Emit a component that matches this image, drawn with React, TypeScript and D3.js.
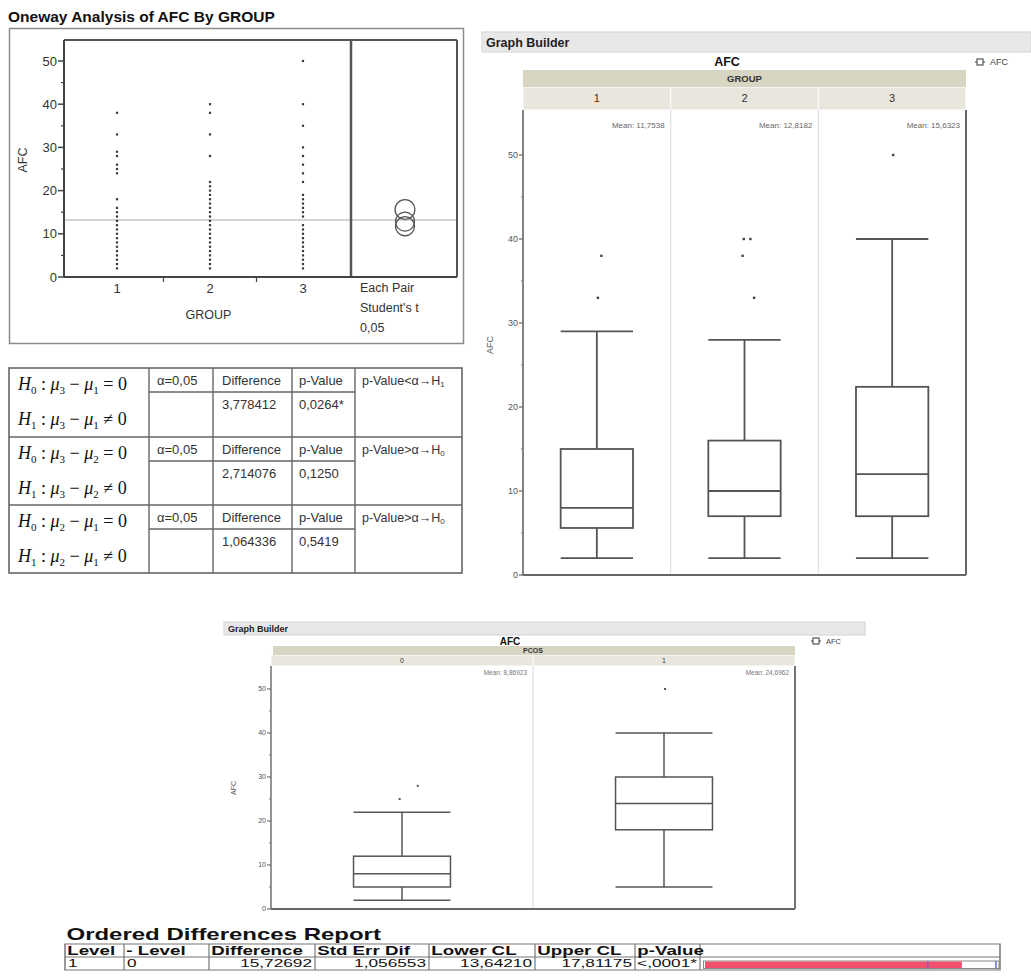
import React from "react";
import * as d3 from "d3";

const SANS = "'Liberation Sans', Arial, Helvetica, sans-serif";
const SERIF = "'Liberation Serif', 'Times New Roman', Times, serif";

// ---- Oneway Analysis of AFC by GROUP ----
const groupLevels = ["1", "2", "3"];
const afcGroup1 = [2, 3, 4, 5, 6, 7, 8, 9, 10, 11, 12, 13, 14, 15, 16, 18, 24, 25, 26, 28, 29, 33, 38];
const afcGroup2 = [2, 3, 4, 5, 6, 7, 8, 9, 10, 11, 12, 13, 14, 15, 16, 17, 18, 19, 20, 21, 22, 28, 33, 38, 40];
const afcGroup3 = [2, 3, 4, 5, 6, 7, 8, 9, 10, 11, 12, 14, 15, 16, 17, 18, 19, 22, 24, 26, 28, 30, 35, 40, 50];
const groupMeans = [11.7538, 12.8182, 15.6323];
const groupCircleRadius = [2.2, 2.2, 2.3];
const grandMean = 13.2;
const afcMajorTicks = [0, 10, 20, 30, 40, 50];
const afcMinorTicks = [5, 15, 25, 35, 45];
const comparisonLabel = ["Each Pair", "Student's t", "0,05"];

// ---- Hypothesis tests ----
const testPairs = [["3", "1"], ["3", "2"], ["2", "1"]];
const testAlpha = ["α=0,05", "α=0,05", "α=0,05"];
const testDifference = ["3,778412", "2,714076", "1,064336"];
const testPValue = ["0,0264*", "0,1250", "0,5419"];
const testSign = ["<", ">", ">"];
const testDecision = ["1", "0", "0"];

// ---- Graph Builder: AFC by GROUP ----
const boxMin = [2, 2, 2];
const boxQ1 = [5.6, 7, 7];
const boxMedian = [8, 10, 12];
const boxQ3 = [15, 16, 22.4];
const boxUpper = [29, 28, 40];
const boxOutliers = [[33, 38], [33, 38, 40, 40], [50]];
const boxOutlierJitter = [[0.007, 0.031], [0.065, -0.013, -0.005, 0.04], [0.007]];
const boxMeanLabels = ["Mean: 11,7538", "Mean: 12,8182", "Mean: 15,6323"];

// ---- Graph Builder: AFC by PCOS ----
const pcosLevels = ["0", "1"];
const pcosMin = [2, 5];
const pcosQ1 = [5, 18];
const pcosMedian = [8, 24];
const pcosQ3 = [12, 30];
const pcosUpper = [22, 40];
const pcosOutliers = [[25, 28], [50]];
const pcosOutlierJitter = [[-0.009, 0.06], [0.004]];
const pcosMeanLabels = ["Mean: 8,86923", "Mean: 24,6962"];

// ---- Ordered Differences Report ----
const odHeaders = ["Level", "- Level", "Difference", "Std Err Dif", "Lower CL", "Upper CL", "p-Value"];
const odRow = ["1", "0", "15,72692", "1,056553", "13,64210", "17,81175", "<,0001*"];
const odAlignRight = [false, false, true, true, true, true, true];
const odDifference = 15.72692;
const odLowerCL = 13.6421;
const odUpperCL = 17.81175;

function Box({ cx, half, y, lo, q1, med, q3, hi, sw }: any) {
  return (
    <g stroke="#555" strokeWidth={sw} fill="none">
      <line x1={cx} x2={cx} y1={y(lo)} y2={y(q1)} />
      <line x1={cx} x2={cx} y1={y(q3)} y2={y(hi)} />
      <line x1={cx - half} x2={cx + half} y1={y(lo)} y2={y(lo)} />
      <line x1={cx - half} x2={cx + half} y1={y(hi)} y2={y(hi)} />
      <rect x={cx - half} y={y(q3)} width={2 * half} height={y(q1) - y(q3)} fill="#fff" />
      <line x1={cx - half} x2={cx + half} y1={y(med)} y2={y(med)} />
    </g>
  );
}

function Oneway() {
  const L = 64, R = 351, RR = 457, T = 40, B = 277;
  const y = d3.scaleLinear().domain([0, 50]).range([B, 61]);
  const x = d3.scaleLinear().domain([1, 3]).range([117, 303]);
  const series = [afcGroup1, afcGroup2, afcGroup3];
  const cx = (R + RR) / 2 + 1;
  return (
    <g fontFamily={SANS}>
      <text x={8} y={22} fontSize={15.5} fontWeight="bold" fill="#111">Oneway Analysis of AFC By GROUP</text>
      <rect x={9.5} y={28.5} width={454} height={315} fill="none" stroke="#8c8c8c" strokeWidth={1.5} />
      <line x1={L} x2={RR} y1={y(grandMean)} y2={y(grandMean)} stroke="#aaa" strokeWidth={1.2} />
      <line x1={L} x2={RR} y1={T} y2={T} stroke="#555" strokeWidth={2} />
      <line x1={RR} x2={RR} y1={T} y2={B} stroke="#555" strokeWidth={2} />
      <line x1={R} x2={R} y1={T} y2={B} stroke="#555" strokeWidth={2.5} />
      <line x1={L} x2={L} y1={T} y2={B} stroke="#444" strokeWidth={2} />
      <line x1={L} x2={RR} y1={B} y2={B} stroke="#444" strokeWidth={2} />
      {afcMajorTicks.map((t) => (
        <g key={t}>
          <line x1={L - 6} x2={L} y1={y(t)} y2={y(t)} stroke="#444" strokeWidth={1.5} />
          <text x={L - 7} y={y(t)} dy="0.35em" textAnchor="end" fontSize={13} fill="#333">{t}</text>
        </g>
      ))}
      {afcMinorTicks.map((t) => (
        <line key={t} x1={L - 3} x2={L} y1={y(t)} y2={y(t)} stroke="#444" strokeWidth={1.2} />
      ))}
      {[1.5, 2.5].map((t) => (
        <line key={t} x1={x(t)} x2={x(t)} y1={B} y2={B + 5} stroke="#444" strokeWidth={1.2} />
      ))}
      {groupLevels.map((g, i) => (
        <text key={g} x={x(i + 1)} y={B + 11} dy="0.35em" textAnchor="middle" fontSize={13} fill="#333">{g}</text>
      ))}
      <text x={(L + R) / 2 + 1} y={B + 38} dy="0.35em" textAnchor="middle" fontSize={12.5} fill="#333">GROUP</text>
      <text transform={`translate(23,160) rotate(-90)`} textAnchor="middle" dy="0.35em" fontSize={12.5} fill="#333">AFC</text>
      {series.map((vals, i) =>
        vals.map((v, j) => (
          <rect key={`${i}-${j}`} x={x(i + 1) - 1.1} y={y(v) - 1.1} width={2.2} height={2.2} fill="#3a3a3a" />
        ))
      )}
      {groupMeans.map((m, i) => (
        <circle key={i} cx={cx} cy={y(m)} r={y(0) - y(groupCircleRadius[i])} fill="none" stroke="#555" strokeWidth={1.3} />
      ))}
      {comparisonLabel.map((s, i) => (
        <text key={s} x={R + 9} y={B + 15 + i * 20} fontSize={12.5} fill="#333">{s}</text>
      ))}
    </g>
  );
}

function Hyp({ x, y, h, a, b, rel }: any) {
  return (
    <text x={x} y={y} fontFamily={SERIF} fontSize={18} fill="#111" style={{ whiteSpace: "pre" }}>
      <tspan fontStyle="italic">H</tspan>
      <tspan fontSize={11} dy={4}>{h}</tspan>
      <tspan dy={-4}>{" : "}</tspan>
      <tspan fontStyle="italic">μ</tspan>
      <tspan fontSize={11} dy={4}>{a}</tspan>
      <tspan dy={-4}>{" − "}</tspan>
      <tspan fontStyle="italic">μ</tspan>
      <tspan fontSize={11} dy={4}>{b}</tspan>
      <tspan dy={-4}>{` ${rel} 0`}</tspan>
    </text>
  );
}

function HypTable() {
  const cols = [9, 149, 213, 292, 355, 462];
  const rowTops = [368, 437, 505, 573];
  const lc = "#666";
  return (
    <g fontFamily={SANS}>
      <rect x={cols[0]} y={rowTops[0]} width={cols[5] - cols[0]} height={rowTops[3] - rowTops[0]} fill="none" stroke={lc} strokeWidth={1.6} />
      {rowTops.slice(1, 3).map((t) => (
        <line key={t} x1={cols[0]} x2={cols[5]} y1={t} y2={t} stroke={lc} strokeWidth={1.6} />
      ))}
      {cols.slice(1, 5).map((c) => (
        <line key={c} x1={c} x2={c} y1={rowTops[0]} y2={rowTops[3]} stroke={lc} strokeWidth={1.4} />
      ))}
      {testPairs.map((p, i) => {
        const top = rowTops[i];
        return (
          <g key={i}>
            <line x1={cols[1]} x2={cols[4]} y1={top + 24} y2={top + 24} stroke={lc} strokeWidth={1.4} />
            <Hyp x={18} y={top + 22} h="0" a={p[0]} b={p[1]} rel="=" />
            <Hyp x={18} y={top + 57} h="1" a={p[0]} b={p[1]} rel="≠" />
            <text x={cols[1] + 8} y={top + 17} fontSize={13} fill="#333">{testAlpha[i]}</text>
            <text x={cols[2] + 9} y={top + 17} fontSize={13} fill="#333">Difference</text>
            <text x={cols[3] + 7} y={top + 17} fontSize={13} fill="#333">p-Value</text>
            <text x={cols[4] + 7} y={top + 17} fontSize={12.5} fill="#333">
              {`p-Value${testSign[i]}α→H`}
              <tspan fontSize={8} dy={2}>{testDecision[i]}</tspan>
            </text>
            <text x={cols[2] + 9} y={top + 41} fontSize={13} fill="#333">{testDifference[i]}</text>
            <text x={cols[3] + 7} y={top + 41} fontSize={13} fill="#333">{testPValue[i]}</text>
          </g>
        );
      })}
    </g>
  );
}

function Legend({ x, y, fs }: any) {
  return (
    <g>
      <line x1={x} x2={x + 10} y1={y} y2={y} stroke="#555" strokeWidth={1.2} />
      <rect x={x + 2} y={y - 3} width={6} height={6} fill="#fff" stroke="#555" strokeWidth={1.2} />
      <text x={x + 15} y={y} dy="0.35em" fontSize={fs} fill="#444">AFC</text>
    </g>
  );
}

function GroupBuilder() {
  const L = 523, R = 966, T = 110, B = 575;
  const y = d3.scaleLinear().domain([0, 50]).range([B, 155]);
  const x = d3.scaleBand().domain(groupLevels).range([L, R]);
  const bw = x.bandwidth();
  const half = bw * 0.245;
  return (
    <g fontFamily={SANS}>
      <rect x={482} y={32} width={549} height={20} fill="#e8e8e8" stroke="#d4d4d4" />
      <text x={486} y={46.5} fontSize={12.5} fontWeight="bold" fill="#222">Graph Builder</text>
      <text x={727} y={62} dy="0.35em" textAnchor="middle" fontSize={12.5} fontWeight="bold" fill="#111">AFC</text>
      <Legend x={975} y={62} fs={9} />
      <rect x={L} y={70} width={R - L} height={17} fill="#d8d5c3" />
      <text x={(L + R) / 2} y={78.5} dy="0.35em" textAnchor="middle" fontSize={9.5} fontWeight="bold" fill="#333">GROUP</text>
      {groupLevels.map((g) => (
        <g key={g}>
          <rect x={x(g)! + 0.5} y={87.5} width={bw - 1} height={T - 88} fill="#e9e7dd" />
          <text x={x(g)! + bw / 2} y={98.5} dy="0.35em" textAnchor="middle" fontSize={11} fill="#333">{g}</text>
        </g>
      ))}
      {groupLevels.slice(1).map((g) => (
        <line key={g} x1={x(g)} x2={x(g)} y1={T} y2={B} stroke="#e0e0e0" strokeWidth={1.2} />
      ))}
      <line x1={L} x2={L} y1={T} y2={B} stroke="#666" strokeWidth={1.6} />
      <line x1={R} x2={R} y1={T} y2={B} stroke="#666" strokeWidth={2} />
      <line x1={L} x2={R} y1={B} y2={B} stroke="#666" strokeWidth={2} />
      {afcMajorTicks.map((t) => (
        <g key={t}>
          <line x1={L - 4} x2={L} y1={y(t)} y2={y(t)} stroke="#666" strokeWidth={1.2} />
          <text x={L - 5} y={y(t)} dy="0.35em" textAnchor="end" fontSize={9} fill="#555">{t}</text>
        </g>
      ))}
      {afcMinorTicks.map((t) => (
        <line key={t} x1={L - 2} x2={L} y1={y(t)} y2={y(t)} stroke="#777" strokeWidth={1} />
      ))}
      <text transform={`translate(490,345) rotate(-90)`} textAnchor="middle" dy="0.35em" fontSize={9} fill="#555">AFC</text>
      {groupLevels.map((g, i) => {
        const cx = x(g)! + bw / 2;
        return (
          <g key={g}>
            <text x={x(g)! + bw - 6} y={125} dy="0.35em" textAnchor="end" fontSize={8} fill="#666">{boxMeanLabels[i]}</text>
            <Box cx={cx} half={half} y={y} lo={boxMin[i]} q1={boxQ1[i]} med={boxMedian[i]} q3={boxQ3[i]} hi={boxUpper[i]} sw={1.8} />
            {boxOutliers[i].map((v, j) => (
              <rect key={j} x={cx + boxOutlierJitter[i][j] * bw - 1.2} y={y(v) - 1.2} width={2.4} height={2.4} fill="#444" />
            ))}
          </g>
        );
      })}
    </g>
  );
}

function PcosBuilder() {
  const L = 271, R = 795, T = 666, B = 909;
  const y = d3.scaleLinear().domain([0, 50]).range([B, 689]);
  const x = d3.scaleBand().domain(pcosLevels).range([L, R]);
  const bw = x.bandwidth();
  const half = bw * 0.185;
  return (
    <g fontFamily={SANS}>
      <rect x={224} y={622} width={641} height={13} fill="#e8e8e8" stroke="#d4d4d4" />
      <text x={228} y={632} fontSize={9} fontWeight="bold" fill="#222">Graph Builder</text>
      <text x={510} y={641} dy="0.35em" textAnchor="middle" fontSize={10} fontWeight="bold" fill="#111">AFC</text>
      <Legend x={811} y={641} fs={7.5} />
      <rect x={L + 2} y={646} width={R - L - 2} height={9} fill="#d8d5c3" />
      <text x={(L + R) / 2} y={650.5} dy="0.35em" textAnchor="middle" fontSize={7} fontWeight="bold" fill="#333">PCOS</text>
      {pcosLevels.map((g) => (
        <g key={g}>
          <rect x={x(g)! + 0.5} y={655.5} width={bw - 1} height={T - 656} fill="#e9e7dd" />
          <text x={x(g)! + bw / 2} y={661} dy="0.35em" textAnchor="middle" fontSize={7} fill="#333">{g}</text>
        </g>
      ))}
      {pcosLevels.slice(1).map((g) => (
        <line key={g} x1={x(g)} x2={x(g)} y1={T} y2={B} stroke="#e0e0e0" strokeWidth={1.2} />
      ))}
      <line x1={L} x2={L} y1={T} y2={B} stroke="#666" strokeWidth={1.4} />
      <line x1={R} x2={R} y1={T} y2={B} stroke="#666" strokeWidth={1.8} />
      <line x1={L} x2={R} y1={B} y2={B} stroke="#666" strokeWidth={1.8} />
      {afcMajorTicks.map((t) => (
        <g key={t}>
          <line x1={L - 4} x2={L} y1={y(t)} y2={y(t)} stroke="#666" strokeWidth={1.1} />
          <text x={L - 5} y={y(t)} dy="0.35em" textAnchor="end" fontSize={7} fill="#555">{t}</text>
        </g>
      ))}
      {afcMinorTicks.map((t) => (
        <line key={t} x1={L - 2} x2={L} y1={y(t)} y2={y(t)} stroke="#777" strokeWidth={1} />
      ))}
      <text transform={`translate(234,788) rotate(-90)`} textAnchor="middle" dy="0.35em" fontSize={7} fill="#555">AFC</text>
      {pcosLevels.map((g, i) => {
        const cx = x(g)! + bw / 2;
        return (
          <g key={g}>
            <text x={x(g)! + bw - 6} y={673} dy="0.35em" textAnchor="end" fontSize={6.5} fill="#777">{pcosMeanLabels[i]}</text>
            <Box cx={cx} half={half} y={y} lo={pcosMin[i]} q1={pcosQ1[i]} med={pcosMedian[i]} q3={pcosQ3[i]} hi={pcosUpper[i]} sw={1.5} />
            {pcosOutliers[i].map((v, j) => (
              <rect key={j} x={cx + pcosOutlierJitter[i][j] * bw - 1} y={y(v) - 1} width={2} height={2} fill="#555" />
            ))}
          </g>
        );
      })}
    </g>
  );
}

function OrderedReport() {
  const sx = 1.5;
  const x0 = 65;
  const realCols = [65, 124, 209, 315, 429, 535, 635, 700, 1000];
  const cols = realCols.map((c) => x0 + (c - x0) / sx);
  const top = 944, mid = 957, bot = 970;
  const bar = d3.scaleLinear().domain([0, 18]).range([705, 999]);
  return (
    <g fontFamily={SANS}>
      <g transform={`translate(${x0},0) scale(${sx},1) translate(${-x0},0)`}>
        <text x={66} y={940} fontSize={16} fontWeight="bold" fill="#111">Ordered Differences Report</text>
        <rect x={cols[0]} y={top} width={cols[8] - cols[0]} height={bot - top} fill="#fff" stroke="#777" strokeWidth={1} />
        <line x1={cols[0]} x2={cols[8]} y1={mid} y2={mid} stroke="#777" strokeWidth={1} />
        {cols.slice(1, 8).map((c, i) => (
          <line key={i} x1={c} x2={c} y1={top} y2={bot} stroke="#777" strokeWidth={0.8} />
        ))}
        {odHeaders.map((h, i) => (
          <text key={h} x={cols[i] + 1.5} y={top + 10.8} fontSize={12.5} fontWeight="bold" fill="#111">{h}</text>
        ))}
        {odRow.map((v, i) => (
          <text key={i} x={odAlignRight[i] ? cols[i + 1] - 2 : cols[i] + 2} y={mid + 10.5} textAnchor={odAlignRight[i] ? "end" : "start"} fontSize={11.5} fill="#111">{v}</text>
        ))}
      </g>
      <rect x={bar(0) - 1.5} y={961} width={bar(18) - bar(0) + 1.5} height={7.5} fill="#fff" stroke="#888" strokeWidth={1} />
      <rect x={bar(0)} y={961.5} width={bar(odDifference) - bar(0)} height={6.5} fill="#f0506c" />
      <line x1={bar(odLowerCL)} x2={bar(odLowerCL)} y1={961} y2={968.5} stroke="#5a6fd6" strokeWidth={1.2} />
      <line x1={bar(odUpperCL)} x2={bar(odUpperCL)} y1={961} y2={968.5} stroke="#5a6fd6" strokeWidth={1.5} />
    </g>
  );
}

export default function App() {
  return (
    <svg width={1031} height={977} viewBox="0 0 1031 977" style={{ position: "absolute", left: 0, top: 0, display: "block" }}>
      <rect width={1031} height={977} fill="#fff" />
      <Oneway />
      <HypTable />
      <GroupBuilder />
      <PcosBuilder />
      <OrderedReport />
    </svg>
  );
}
